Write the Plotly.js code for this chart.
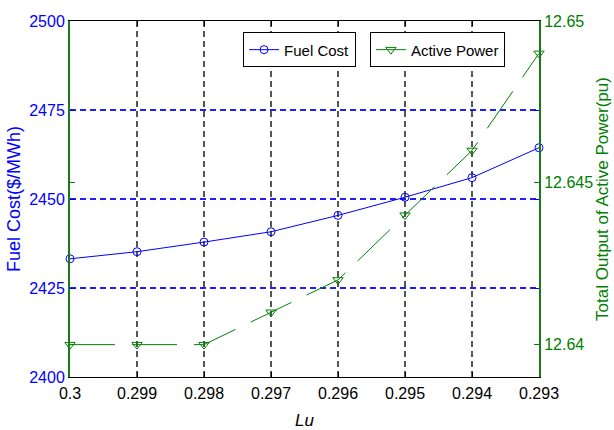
<!DOCTYPE html>
<html>
<head>
<meta charset="utf-8">
<script src="https://cdn.plot.ly/plotly-3.0.1.min.js"></script>
<style>html,body{margin:0;padding:0;background:#fff;}#chart{width:614px;height:430px;}</style>
</head>
<body>
<div id="chart"></div>
<script>
const xLabels = ['0.3','0.299','0.298','0.297','0.296','0.295','0.294','0.293'];
const fuelCost = [2433.2, 2435.2, 2437.9, 2440.8, 2445.4, 2450.5, 2456.0, 2464.4];
const activePower = [12.640, 12.640, 12.640, 12.641, 12.642, 12.644, 12.646, 12.649];
const leftTicks = [2400, 2425, 2450, 2475, 2500];
const rightTicks = [12.64, 12.645, 12.65];
const rightTickText = ['12.64', '12.645', '12.65'];

const FONT = 'Liberation Sans, Arial, sans-serif';
const BLUE = '#0000ff';
const GREEN = '#008000';

const traces = [
  {
    x: xLabels, y: fuelCost, name: 'Fuel Cost', type: 'scatter', mode: 'lines+markers',
    line: {color: BLUE, width: 1},
    marker: {symbol: 'circle-open', size: 8, color: BLUE, line: {width: 1, color: BLUE}},
    cliponaxis: false, legend: 'legend', yaxis: 'y'
  },
  {
    x: xLabels, y: activePower, name: 'Active Power', type: 'scatter', mode: 'lines+markers',
    line: {color: GREEN, width: 1, dash: '45px,17px'},
    marker: {symbol: 'triangle-down-open', size: 9, color: GREEN, line: {width: 1, color: GREEN}},
    cliponaxis: false, legend: 'legend2', yaxis: 'y2'
  }
];

const layout = {
  width: 614, height: 430,
  margin: {l: 70, r: 75, t: 21, b: 53},
  paper_bgcolor: '#ffffff', plot_bgcolor: '#ffffff',
  font: {family: FONT, size: 16, color: '#000'},
  xaxis: {
    type: 'category', range: [0, 7],
    showline: true, linecolor: '#000', linewidth: 1, mirror: 'ticks',
    ticks: 'inside', ticklen: 5, tickcolor: '#000',
    showgrid: true, gridcolor: '#555555', gridwidth: 1.2, griddash: '6px,4px',
    tickfont: {family: FONT, size: 16, color: '#000'},
    ticklabelstandoff: 2,
    title: {text: 'Lu', font: {family: FONT, size: 17, color: '#000', style: 'italic'}, standoff: 18},
    zeroline: false
  },
  yaxis: {
    range: [2400, 2500], tickvals: leftTicks,
    showline: true, linecolor: '#0b5a2a', linewidth: 2, mirror: 'ticks',
    ticks: 'inside', ticklen: 5, tickcolor: BLUE,
    showgrid: true, gridcolor: '#2020ff', gridwidth: 2, griddash: '6px,4px',
    tickfont: {family: FONT, size: 16, color: BLUE},
    title: {text: 'Fuel Cost($/MWh)', font: {family: FONT, size: 18, color: BLUE}, standoff: 4},
    zeroline: false
  },
  yaxis2: {
    overlaying: 'y', side: 'right',
    range: [12.639, 12.65], tickvals: rightTicks, ticktext: rightTickText,
    showline: true, linecolor: '#1a7a1a', linewidth: 2, mirror: 'ticks',
    ticks: 'inside', ticklen: 5, tickcolor: GREEN,
    showgrid: false,
    tickfont: {family: FONT, size: 16, color: GREEN},
    title: {text: 'Total Output of Active Power(pu)', font: {family: FONT, size: 17, color: GREEN}, standoff: 4},
    zeroline: false
  },
  legend: {
    x: 0.369, y: 0.968, xanchor: 'left', yanchor: 'top',
    bgcolor: '#ffffff', bordercolor: '#000', borderwidth: 1,
    font: {family: FONT, size: 15, color: '#000'}, itemwidth: 30
  },
  legend2: {
    x: 0.6395, y: 0.968, xanchor: 'left', yanchor: 'top',
    bgcolor: '#ffffff', bordercolor: '#000', borderwidth: 1,
    font: {family: FONT, size: 15, color: '#000'}, itemwidth: 30
  },
  showlegend: true
};

Plotly.newPlot('chart', traces, layout, {displayModeBar: false, staticPlot: true});
</script>
</body>
</html>
